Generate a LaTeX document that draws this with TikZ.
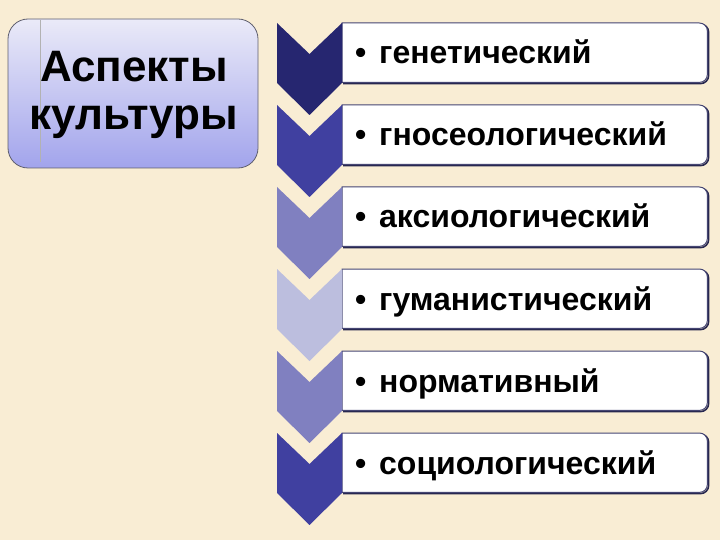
\documentclass[tikz,border=0pt]{standalone}
\usepackage{fontspec}
\setmainfont{Liberation Sans}
\pgfdeclarelayer{bg}
\pgfsetlayers{bg,main}
\definecolor{bgc}{RGB}{249,237,212}
\definecolor{cA}{RGB}{38,38,112}
\definecolor{cB}{RGB}{64,64,160}
\definecolor{cC}{RGB}{128,128,192}
\definecolor{cD}{RGB}{188,190,222}
\definecolor{tTop}{RGB}{234,234,248}
\definecolor{tBot}{RGB}{162,164,236}
\definecolor{tBorder}{RGB}{95,95,110}
\definecolor{edgeC}{RGB}{70,70,115}
\definecolor{shadowC}{RGB}{40,40,80}
\begin{document}
\begin{tikzpicture}[x=1pt,y=-1pt,
  itembox/.style={anchor=north west, fill=none, minimum width=365pt, minimum height=59pt, inner sep=0pt},
  itemtext/.style={anchor=base west, inner sep=0pt, font=\fontsize{32}{38}\selectfont\bfseries},
  titlebox/.style={draw=tBorder, line width=0.8pt, rounded corners=20pt, top color=tTop,
    bottom color=tBot, minimum width=250pt, minimum height=149pt},
  titletext/.style={align=center, font=\fontsize{44}{48}\selectfont\bfseries},
  boxedge/.style={draw=edgeC, line width=1pt, fill=white},
  boxshadow/.style={draw=shadowC, line width=1.6pt, transform canvas={shift={(1.2pt,-1.2pt)}}}]
\begin{pgfonlayer}{bg}
\fill[bgc] (0,0) rectangle (720,540);
\end{pgfonlayer}
\useasboundingbox (0,0) rectangle (720,540);

\node[titlebox] (title) at (133,93.5) {};
\draw[gray!60, line width=0.6pt] ([xshift=33pt,yshift=-1pt]title.north west) -- ([xshift=33pt,yshift=6pt]title.south west);
\node[titletext] (titletxt) at (134,95) {Аспекты\\культуры};

\foreach \i/\t/\c in {0/генетический/cA, 1/гносеологический/cB, 2/аксиологический/cC,
                      3/гуманистический/cD, 4/нормативный/cC, 5/социологический/cB}{
  \pgfmathsetmacro\yt{23+82*\i}
  \node[itembox] (b\i) at (342,\yt) {};
  \begin{pgfonlayer}{bg}
    \draw[boxshadow] (b\i.north west) -- ([xshift=-8pt]b\i.north east)
      arc[start angle=90,end angle=0,radius=8pt] -- ([yshift=8pt]b\i.south east)
      arc[start angle=0,end angle=-90,radius=8pt] -- (b\i.south west);
    \path[boxedge] (b\i.north west) -- ([xshift=-8pt]b\i.north east)
      arc[start angle=90,end angle=0,radius=8pt] -- ([yshift=8pt]b\i.south east)
      arc[start angle=0,end angle=-90,radius=8pt] -- (b\i.south west) -- cycle;
  \end{pgfonlayer}
  \node[itemtext] (t\i) at (355,\yt+41) {•\hspace{0.4em}\t};
  \fill[\c] (277,\yt) -- (309.5,\yt+31) -- (342,\yt) -- (342,\yt+60)
    -- (309.5,\yt+92) -- (277,\yt+60) -- cycle;
}
\end{tikzpicture}
\end{document}
